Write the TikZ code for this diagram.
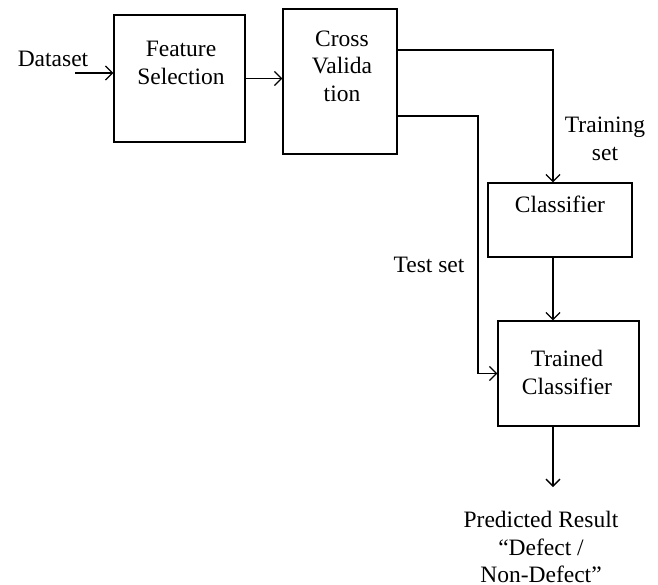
\documentclass[tikz,border=0pt]{standalone}
\usepackage{fontspec}
\setmainfont{Liberation Serif}
\usetikzlibrary{positioning,arrows.meta}

\begin{document}
\begin{tikzpicture}[x=1pt,y=-1pt,
		box/.style={draw,line width=1.3pt,inner sep=0pt},
		txt/.style={align=center,inner sep=0pt,font=\fontsize{23.5}{27.5}\selectfont},
		arr/.style={-{Straight Barb[length=7pt,width=14pt]},line width=1.3pt}]
	\useasboundingbox (0,0) rectangle (658,584);
	
	\node[box,minimum width=131pt,minimum height=127pt] (fs) at (179.5,78.5) {};
	\node[box,minimum width=114pt,minimum height=145pt] (cv) at (340,81.5) {};
	\node[box,minimum width=144pt,minimum height=74pt] (cls) at (560,220) {};
	\node[box,minimum width=141pt,minimum height=105pt] (tcls) at (568.5,373.5) {};
	
	\node[txt,below=27pt of fs.north,xshift=1.5pt] (fslbl) {Feature\\Selection};
	\node[txt,below=22pt of cv.north,xshift=2pt] (cvlbl) {Cross\\Valida\\tion};
	\node[txt,below=13pt of cls.north] (clslbl) {Classifier};
	\node[txt,below=30pt of tcls.north,xshift=-1.5pt] (tclslbl) {Trained\\Classifier};
	
	\node[txt,anchor=north] (ds) at (53,51) {Dataset};
	\node[txt,anchor=north] (trlbl) at (605,117) {Training\\set};
	\node[txt,anchor=north] (tslbl) at (429,257) {Test set};
	\node[txt,anchor=north] (res) at (541,511) {Predicted Result\\“Defect /\\Non-Defect”};
	
	\coordinate (dsin) at (75,73);
	\coordinate (trx) at (553,50);
	\coordinate (tsx) at (478,116);
	\coordinate (out) at (553,487);
	
	\draw[arr] (dsin) -- (dsin -| fs.west);
	\draw[arr] (fs.east) -- (fs.east -| cv.west);
	\draw[arr] (trx -| cv.east) -| (cls.north -| trx);
	\draw[arr] (tsx -| cv.east) -- (tsx) |- (tcls.west);
	\draw[arr] (cls.south -| trx) -- (tcls.north -| trx);
	\draw[arr] (tcls.south -| trx) -- (out);
\end{tikzpicture}
\end{document}
